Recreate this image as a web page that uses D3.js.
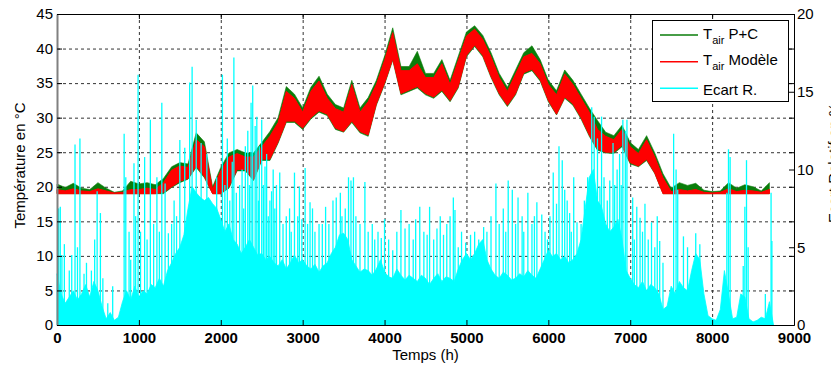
<!DOCTYPE html>
<html>
<head>
<meta charset="utf-8">
<script src="https://cdn.jsdelivr.net/npm/d3@7"></script>
<style>
  body { margin: 0; background: #fff; }
  svg { display: block; font-family: "Liberation Sans", Arial, sans-serif; }
</style>
</head>
<body>
<div id="chart"></div>
<script>
// temperature bands, one lo/hi pair every 100 h
const stepT = 100;
const tModLo = [19,19,19,19,19,19,19,19,19,19, 19,19,19,19.2,20,20.8,21.2,23,21.5,19,
  19,20,22.5,22.5,21,24,24,26.5,29.5,29.5, 28.5,30,31,30.5,28.5,28,29.5,28,27.5,32,
  35,38.5,33.5,34,34.5,33.5,33,34,32.5,34.5, 39,40.5,39,36,33.5,31.8,33.5,36.5,37,35.5,
  32.5,30.5,33,32,30,27.5,25.5,25,25,26, 23.5,23,24,22,19,19,19,19,19,19,
  19,19,19,19,19,19,19,19];
const tModHi = [19.6,19.4,19.7,19.4,19.3,19.7,19.4,19.1,19.2,19.6, 19.6,19.8,19.6,20.6,22.4,23,22.8,26.8,25.8,19.6,
  22.3,24.3,24.8,24.3,24.3,25.8,27.3,29.3,33.8,32.8, 30.8,33.8,35.3,32.8,31.3,30.8,34.8,30.8,32.3,34.8,
  38.3,42.3,36.8,36.8,37.8,35.8,35.8,37.8,34.8,38.3, 41.8,42.8,41.3,38.8,35.8,33.8,36.3,38.8,39.3,37.8,
  34.8,33.3,36.3,34.8,32.8,30.8,28.3,27.3,26.8,28.3, 25.8,24.8,26.8,24.3,21.3,19.3,19.6,19.4,19.6,19.2,
  19.1,19.2,19.7,19.3,19.5,19.4,19.2,19.6];
const tPCLo = [19,19,19,19,19,19,19,19,19,19, 19,19,19,19,19.9,20.6,21.1,22.8,21.3,19,
  19,19.8,22.3,22.3,20.9,23.8,23.8,26.3,29.3,29.3, 28.3,29.8,30.8,30.3,28.3,27.9,29.3,27.8,27.3,31.8,
  34.8,38.3,33.3,33.8,34.3,33.3,32.8,33.8,32.3,34.3, 38.8,40.3,38.8,35.8,33.3,31.6,33.3,36.3,36.8,35.3,
  32.3,30.4,32.8,31.8,29.8,27.3,25.3,24.9,24.8,25.8, 23.3,22.9,23.8,21.9,19,19,19,19,19,19,
  19,19,19,19,19,19,19,19];
const tPCHi = [20.4,19.9,20.5,19.8,19.6,20.6,19.8,19.2,19.4,20.8, 20.4,20.6,20.3,21.2,22.9,23.5,23.3,27.8,26.5,20,
  22.8,24.9,25.4,24.9,24.9,26.4,28,30,34.5,33.4, 31.4,34.4,36,33.4,31.9,31.4,35.4,31.4,32.9,35.4,
  38.9,43,37.4,37.4,39.6,36.4,36.4,38.4,35.4,38.9, 42.4,43.3,41.9,39.4,36.4,34.4,36.9,39.4,40.4,38.4,
  35.4,33.9,36.9,35.4,33.4,31.4,29.6,27.9,27.4,28.9, 26.4,25.4,27.4,24.9,21.9,19.8,20.6,20.2,20.5,19.5,
  19.3,19.4,20.6,19.8,20.3,20,19.4,20.6];

// relative gap (%), dense base level every 50 h
const stepE = 50;
const ecartBulk = [3.3,2.0,1.4,1.8,2.2,1.6,2.0,2.6,1.8,2.8,2.2,1.2,0.4,0.8,0.3,0.5,1.5,2.2,1.6,2.5,
  1.8,2.2,2.0,2.6,2.4,3.0,2.5,3.5,4.0,4.6,5.0,5.8,7.5,8.9,8.5,8.2,8.0,8.2,7.8,7.5,
  6.8,6.0,6.5,5.5,5.2,4.6,5.0,5.5,5.0,4.5,4.6,4.2,4.4,4.0,3.8,4.2,3.6,4.0,4.5,4.0,
  4.2,3.8,3.6,3.9,3.4,3.8,4.0,4.6,5.0,5.8,5.9,5.5,4.2,3.8,3.4,3.6,3.5,3.2,3.6,4.2,
  3.4,3.1,3.0,3.6,3.2,2.9,3.2,3.0,2.8,3.2,3.0,2.6,3.0,3.3,2.8,3.1,3.0,2.8,3.6,4.2,
  4.6,4.2,4.6,5.2,5.5,4.2,3.6,3.2,3.0,3.4,3.2,2.9,3.0,3.3,3.1,3.5,3.2,3.0,3.6,4.2,
  4.8,4.4,4.6,4.2,4.4,4.0,4.2,4.6,5.5,7.5,9.5,10.0,8.0,7.6,6.5,6.0,6.3,6.8,5.5,3.5,
  3.0,2.6,2.4,2.8,2.2,2.6,2.4,2.0,1.0,1.2,2.5,2.0,2.8,2.4,2.2,3.5,4.6,4.2,2.0,0.6,
  0.4,0.3,1.0,3.5,2.0,0.4,0.5,2.0,1.8,0.4,0.2,0.3,0.5,0.4,1.5,0.0];

// isolated peaks of the relative gap: [hour, %]
const ecartPeaks = [
  [20,7.5],[40,7.6],[60,4.5],[90,5.2],[150,3.5],[180,4.5],[220,11.6],[250,5.0],[280,12.0],
  [330,3.3],[360,4.0],[420,3.5],[460,5.5],[490,8.6],[530,7.2],[560,3.0],[620,1.4],[680,2.5],
  [820,12.3],[840,9.5],[880,6.0],[900,4.2],[940,10.4],[960,7.0],[990,16.1],[1020,6.0],
  [1070,10.8],[1100,5.5],[1140,13.2],[1180,6.5],[1220,9.5],[1250,6.0],[1280,14.3],[1320,9.1],
  [1360,5.9],[1400,6.5],[1430,8.0],[1460,7.0],[1500,11.9],[1560,11.4],[1620,15.6],[1650,16.6],
  [1700,13.2],[1760,11.7],[1830,11.0],[1950,9.5],[2020,16.1],[2050,9.0],[2080,12.0],[2110,8.0],
  [2140,10.5],[2160,17.2],[2190,8.5],[2230,9.0],[2260,10.0],[2280,7.5],[2300,11.5],[2330,12.5],
  [2350,9.0],[2370,14.3],[2390,15.4],[2420,12.8],[2440,13.4],[2460,8.0],[2470,11.5],[2500,13.2],
  [2520,9.0],[2540,10.2],[2560,11.0],[2580,7.0],[2600,8.0],[2620,8.6],[2640,10.0],[2660,7.5],
  [2680,9.0],[2720,9.8],[2760,6.5],[2800,7.0],[2840,7.5],[2860,6.0],[2900,9.8],[2940,7.0],
  [2960,8.9],[2990,6.8],[3030,10.1],[3060,6.5],[3090,7.9],[3120,7.5],[3150,6.0],[3200,6.5],
  [3240,6.5],[3280,7.6],[3320,6.5],[3370,8.0],[3410,8.2],[3460,8.5],[3480,7.0],[3520,7.5],
  [3560,9.5],[3590,9.3],[3620,9.5],[3650,7.0],[3700,6.5],[3760,9.2],[3800,6.0],[3850,6.5],
  [3880,5.5],[3920,6.0],[3960,5.6],[4000,6.8],[4050,5.5],[4100,4.8],[4150,6.0],[4200,7.4],
  [4250,6.2],[4300,6.5],[4350,5.5],[4380,6.8],[4430,7.6],[4480,6.0],[4520,5.8],[4550,7.6],
  [4600,5.5],[4640,6.2],[4680,7.0],[4720,5.8],[4760,6.5],[4800,7.0],[4840,8.2],[4860,7.4],
  [4900,5.0],[4940,6.0],[4990,5.3],[5050,5.8],[5100,6.0],[5150,5.5],[5210,6.3],[5250,6.0],
  [5300,7.0],[5360,9.1],[5400,6.5],[5450,7.5],[5480,6.0],[5510,9.3],[5560,8.7],[5600,6.5],
  [5630,8.2],[5680,7.0],[5700,6.0],[5750,8.5],[5800,6.5],[5830,7.0],[5860,7.9],[5920,7.1],
  [5960,6.0],[5990,5.5],[6020,7.0],[6060,9.8],[6100,7.8],[6130,11.5],[6170,10.6],[6200,8.7],
  [6230,8.0],[6260,7.2],[6280,6.0],[6310,9.5],[6350,6.6],[6400,6.5],[6440,8.0],[6480,9.5],
  [6530,14.0],[6560,13.4],[6600,12.0],[6630,8.9],[6650,13.4],[6680,9.5],[6720,8.0],[6750,9.3],
  [6790,11.7],[6810,9.0],[6840,10.0],[6870,11.0],[6890,9.0],[6910,13.2],[6940,12.5],[6960,13.2],
  [7030,8.2],[7050,5.5],[7080,7.6],[7120,6.9],[7150,6.0],[7180,7.8],[7220,5.5],[7260,6.6],
  [7300,5.0],[7330,7.0],[7360,5.4],[7400,4.0],[7530,12.3],[7560,10.0],[7580,8.7],[7650,5.7],
  [7700,5.0],[7800,5.9],[7850,5.2],[8170,2.5],[8180,8.5],[8200,11.3],[8220,10.8],[8380,3.8],
  [8400,7.6],[8420,10.6],[8440,5.0],[8650,2.0],[8720,8.5],[8730,5.4]];

const xTicks = [0,1000,2000,3000,4000,5000,6000,7000,8000,9000];
const yTicksL = [0,5,10,15,20,25,30,35,40,45];
const yTicksR = [0,5,10,15,20];
const legendLabels = [["T", "air", " P+C"], ["T", "air", " Modèle"], ["Ecart R.", "", ""]];

const cfg = {
  width: 831, height: 369,
  margin: { left: 57, right: 37, top: 14, bottom: 44 }
};
const colors = { pc: "#0a7d0a", mod: "#ff0000", ecart: "#00ffff" };

const x0 = cfg.margin.left, x1 = cfg.width - cfg.margin.right;
const y0 = cfg.height - cfg.margin.bottom, y1 = cfg.margin.top;

const xScale = d3.scaleLinear([0, 9000], [x0, x1]);
const yScale = d3.scaleLinear([0, 45], [y0, y1]);
const yScaleR = d3.scaleLinear([0, 20], [y0, y1]);

const svg = d3.select("#chart")
  .append("svg")
  .attr("width", cfg.width)
  .attr("height", cfg.height)
  .attr("viewBox", [0, 0, cfg.width, cfg.height]);

// dashed grid, under the data
const grid = svg.append("g").attr("class", "gridlines")
  .style("stroke", "#333").style("stroke-width", 1).style("stroke-dasharray", "3,3");
grid.selectAll("line.gx")
  .data(xTicks.slice(1, -1))
  .join("line")
  .attr("class", "gx")
  .attr("x1", d => xScale(d) + 0.5).attr("x2", d => xScale(d) + 0.5)
  .attr("y1", y1).attr("y2", y0);
grid.selectAll("line.gy")
  .data(yTicksL.slice(1, -1))
  .join("line")
  .attr("class", "gy")
  .attr("x1", x0).attr("x2", x1)
  .attr("y1", d => yScale(d) + 0.5).attr("y2", d => yScale(d) + 0.5);

// temperature bands
const band = (lo) => d3.area()
  .x((d, i) => xScale(i * stepT))
  .y0((d, i) => yScale(lo[i]))
  .y1(d => yScale(d));

const chartlines = svg.append("g").attr("class", "chartlines");
chartlines.append("path")
  .datum(tPCHi)
  .attr("d", band(tPCLo))
  .style("fill", colors.pc).style("stroke", colors.pc).style("stroke-width", 0.6);
chartlines.append("path")
  .datum(tModHi)
  .attr("d", band(tModLo))
  .style("fill", colors.mod).style("stroke", colors.mod).style("stroke-width", 1);

// relative gap on the right axis, drawn on top
const ecart = svg.append("g").attr("class", "ecart");
ecart.append("path")
  .datum(ecartBulk)
  .attr("d", d3.area()
    .x((d, i) => xScale(i * stepE))
    .y0(yScaleR(0))
    .y1(d => yScaleR(d)))
  .style("fill", colors.ecart).style("stroke", colors.ecart).style("stroke-width", 0.8);
ecart.selectAll("line")
  .data(ecartPeaks)
  .join("line")
  .attr("x1", d => xScale(d[0])).attr("x2", d => xScale(d[0]))
  .attr("y1", yScaleR(0)).attr("y2", d => yScaleR(d[1]))
  .style("stroke", colors.ecart).style("stroke-width", 1.3);

// axes
const axisFont = g => g.selectAll("text").style("font-size", "15px").style("fill", "#000");

svg.append("g")
  .attr("class", "xAxis")
  .attr("transform", `translate(0, ${y0})`)
  .call(d3.axisBottom(xScale).tickValues(xTicks).tickFormat(d3.format("d"))
    .tickSize(-5).tickSizeOuter(0).tickPadding(7))
  .call(axisFont)
  .call(g => g.selectAll("text").style("font-weight", "bold"));

svg.append("g")
  .attr("class", "xAxisTop")
  .attr("transform", `translate(0, ${y1})`)
  .call(d3.axisTop(xScale).tickValues(xTicks).tickSize(-5).tickSizeOuter(0).tickFormat(""));

svg.append("g")
  .attr("class", "yAxis")
  .attr("transform", `translate(${x0}, 0)`)
  .call(d3.axisLeft(yScale).tickValues(yTicksL).tickSize(-5).tickSizeOuter(0).tickPadding(4))
  .call(axisFont)
  .call(g => g.select(".domain").style("stroke", "#808080").style("stroke-width", 2));

svg.append("g")
  .attr("class", "yAxisMirror")
  .attr("transform", `translate(${x1}, 0)`)
  .call(d3.axisRight(yScale).tickValues(yTicksL).tickSize(-5).tickSizeOuter(0).tickFormat(""));

svg.append("g")
  .attr("class", "yAxisR")
  .attr("transform", `translate(${x1}, 0)`)
  .call(d3.axisRight(yScaleR).tickValues(yTicksR).tickSize(-5).tickSizeOuter(0).tickPadding(3))
  .call(axisFont);

// axis titles
svg.append("text")
  .attr("x", (x0 + x1) / 2).attr("y", 360)
  .attr("text-anchor", "middle").style("font-size", "15px")
  .text("Temps (h)");
svg.append("text")
  .attr("transform", `translate(25, ${(y0 + y1) / 2 - 4}) rotate(-90)`)
  .attr("text-anchor", "middle").style("font-size", "15px")
  .text("Température en °C");
svg.append("text")
  .attr("transform", `translate(839, 163) rotate(-90)`)
  .attr("text-anchor", "middle").style("font-size", "15px")
  .text("Ecart Relatif en %");

// legend
const legend = svg.append("g").attr("class", "legend");
legend.append("rect")
  .attr("x", 652.5).attr("y", 20.5).attr("width", 136).attr("height", 81)
  .style("fill", "#fff").style("stroke", "#000").style("stroke-width", 1);
const legendColors = [colors.pc, colors.mod, colors.ecart];
const legendY = [35, 61.7, 88.3];
legendLabels.forEach((lab, i) => {
  legend.append("line")
    .attr("x1", 660).attr("x2", 698)
    .attr("y1", legendY[i]).attr("y2", legendY[i])
    .style("stroke", legendColors[i]).style("stroke-width", 1.5);
  const t = legend.append("text")
    .attr("x", 703).attr("y", legendY[i] + (lab[1] ? 3.5 : 6.5))
    .style("font-size", "15px");
  t.append("tspan").text(lab[0]);
  if (lab[1]) {
    t.append("tspan").attr("dy", 5).style("font-size", "11px").text(lab[1]);
    t.append("tspan").attr("dy", -5).text(lab[2]);
  }
});
</script>
</body>
</html>
